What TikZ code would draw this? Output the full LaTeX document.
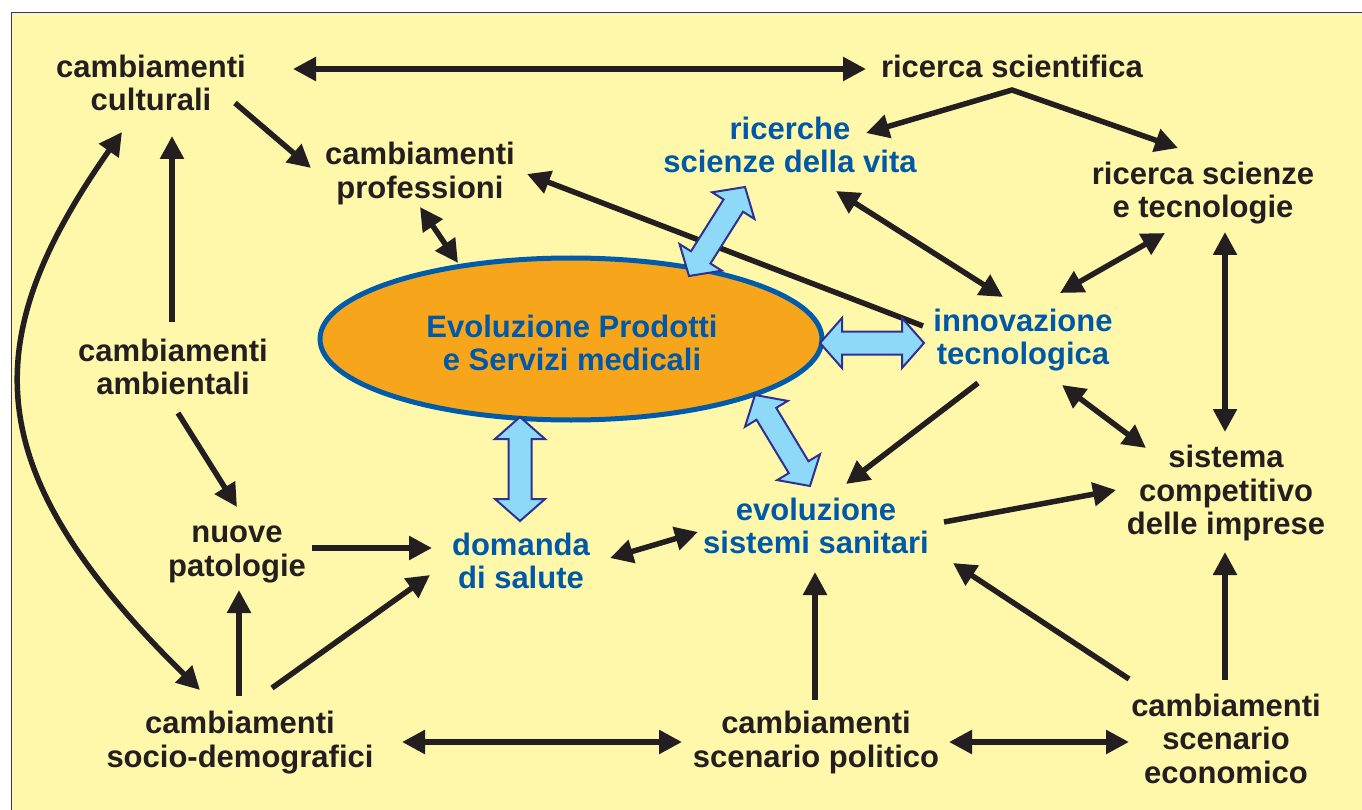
\documentclass[tikz,border=0pt]{standalone}
\usepackage{fontspec}
\setmainfont{Liberation Sans}
\usetikzlibrary{arrows.meta,calc,shapes.geometric}
\definecolor{bgyellow}{RGB}{255,248,170}
\definecolor{framblue}{RGB}{46,49,146}
\definecolor{inkblack}{RGB}{35,31,32}
\definecolor{txtblue}{RGB}{0,88,168}
\definecolor{ellorange}{RGB}{247,166,27}
\definecolor{ellblue}{RGB}{0,92,170}
\definecolor{fatfill}{RGB}{142,216,248}
\definecolor{fatline}{RGB}{46,49,146}
\tikzset{
  lbl/.style={align=center, inner sep=0pt, text=inkblack,
    font=\bfseries\fontsize{31}{33.5}\selectfont},
  blbl/.style={lbl, text=txtblue},
  arr/.style={draw=inkblack, line width=5.5pt, -{Triangle[length=23pt,width=23pt]}},
  darr/.style={draw=inkblack, line width=5.5pt, {Triangle[length=23pt,width=23pt]}-{Triangle[length=23pt,width=23pt]}},
  fatarrow/.style={draw=fatline, fill=fatfill, line width=2pt, line join=miter},
}
\newcommand\fatarr[2]{%
  \coordinate (fapa) at ($(#1)!22pt!(#2)$);
  \coordinate (fapb) at ($(#2)!22pt!(#1)$);
  \draw[fatarrow] (#1) -- ($(fapa)!25pt!90:(#2)$) -- ($(fapa)!11.5pt!90:(#2)$)
    -- ($(fapb)!11.5pt!-90:(#1)$) -- ($(fapb)!25pt!-90:(#1)$) -- (#2)
    -- ($(fapb)!25pt!90:(#1)$) -- ($(fapb)!11.5pt!90:(#1)$)
    -- ($(fapa)!11.5pt!-90:(#2)$) -- ($(fapa)!25pt!-90:(#2)$) -- cycle;
}
\begin{document}
\begin{tikzpicture}[x=1pt,y=-1pt]
\useasboundingbox (0,0) rectangle (1362,810);
\fill[white] (0,0) rectangle (1362,810);
\fill[bgyellow] (11,13) rectangle (1362,810);
\draw[framblue, line width=1pt] (11,810) -- (11,13) -- (1362,13);

% ellipse
\node[ellipse, draw=ellblue, fill=ellorange, line width=5pt,
  minimum width=502pt, minimum height=162pt, inner sep=0pt] (ell) at (571,339) {};
\node[blbl] (elltxt) at (572,343) {Evoluzione Prodotti\\e Servizi medicali};

% nodes
\node[lbl] (cult) at (151,83) {cambiamenti\\culturali};
\node[lbl] (rsci) at (1012,66.3) {ricerca scientifica};
\node[lbl] (prof) at (420,173.3) {cambiamenti\\professioni};
\node[blbl] (rvita) at (790,145) {ricerche\\scienze della vita};
\node[lbl] (rtec) at (1203,193.3) {ricerca scienze\\e tecnologie};
\node[blbl] (innov) at (1023,340.3) {innovazione\\tecnologica};
\node[lbl] (amb) at (173,367) {cambiamenti\\ambientali};
\node[lbl] (sist) at (1226,493) {sistema\\competitivo\\delle imprese};
\node[lbl] (pat) at (237,554.3) {nuove\\patologie};
\node[blbl] (dom) at (521,561) {domanda\\di salute};
\node[blbl] (evo) at (816,526) {evoluzione\\sistemi sanitari};
\node[lbl] (socio) at (240,742.3) {cambiamenti\\socio-demografici};
\node[lbl] (pol) at (816,742.3) {cambiamenti\\scenario politico};
\node[lbl] (eco) at (1226,738.8) {cambiamenti\\scenario\\economico};

% black connectors
\draw[darr] ([shift={(142,-14)}]cult.center) -- ([shift={(-146,2.7)}]rsci.center);
\draw[arr] ([shift={(84,20)}]cult.center) -- ([shift={(-109,-5.3)}]prof.center);
\draw[darr, line join=miter] ([shift={(76,-12)}]rvita.center) -- ([shift={(0,23.7)}]rsci.center) -- ([shift={(-25,-45.3)}]rtec.center);
\draw[darr] ([shift={(0,33.7)}]prof.center) -- ([shift={(-113,-76)}]ell.center);
\draw[arr] ([shift={(-100,-14.3)}]innov.center) -- ([shift={(107,0.7)}]prof.center);
\draw[darr] ([shift={(46,46)}]rvita.center) -- ([shift={(-20,-43.3)}]innov.center);
\draw[darr] ([shift={(-38,39.7)}]rtec.center) -- ([shift={(37,-47.3)}]innov.center);
\draw[darr] ([shift={(22,38.7)}]rtec.center) -- ([shift={(-1,-61)}]sist.center);
\draw[darr] ([shift={(39,44.7)}]innov.center) -- ([shift={(-80,-45)}]sist.center);
\draw[arr] ([shift={(-45,42.7)}]innov.center) -- ([shift={(30,-42)}]evo.center);
\draw[arr] ([shift={(128,-4)}]evo.center) -- ([shift={(-110,-3)}]sist.center);
\draw[arr] ([shift={(-97,-59.8)}]eco.center) -- ([shift={(137,37)}]evo.center);
\draw[arr] ([shift={(-1,-58.8)}]eco.center) -- ([shift={(-1,59)}]sist.center);
\draw[arr] ([shift={(-1,-42.3)}]pol.center) -- ([shift={(-1,46)}]evo.center);
\draw[darr] ([shift={(133,-0.3)}]pol.center) -- ([shift={(-97,3.2)}]eco.center);
\draw[darr] ([shift={(162,-0.3)}]socio.center) -- ([shift={(-134,-0.3)}]pol.center);
\draw[darr] ([shift={(89,-3)}]dom.center) -- ([shift={(-118,6)}]evo.center);
\draw[arr] ([shift={(75,-6.3)}]pat.center) -- ([shift={(-89,-13)}]dom.center);
\draw[arr] ([shift={(32,-54.3)}]socio.center) -- ([shift={(-91,14)}]dom.center);
\draw[arr] ([shift={(-1,-46.3)}]socio.center) -- ([shift={(2,35.7)}]pat.center);
\draw[arr] ([shift={(5,46)}]amb.center) -- ([shift={(0,-47.3)}]pat.center);
\draw[arr] ([shift={(-1,-45)}]amb.center) -- ([shift={(21,53)}]cult.center);
\draw[darr] ([shift={(-40,-52.3)}]socio.center) .. controls (-24,470) and (-24,340) .. ([shift={(-29,49)}]cult.center);

% fat arrows
\coordinate (fa1) at ([shift={(-45,42)}]rvita.center);
\coordinate (fa2) at ([shift={(118,-63)}]ell.center);
\fatarr{fa1}{fa2}
\coordinate (fb1) at ([shift={(249,4)}]ell.center);
\coordinate (fb2) at ([shift={(-99,2.7)}]innov.center);
\fatarr{fb1}{fb2}
\coordinate (fc1) at ([shift={(-51,78)}]ell.center);
\coordinate (fc2) at ([shift={(-1,-40)}]dom.center);
\fatarr{fc1}{fc2}
\coordinate (fd1) at ([shift={(184,56)}]ell.center);
\coordinate (fd2) at ([shift={(-6,-40)}]evo.center);
\fatarr{fd1}{fd2}
\end{tikzpicture}
\end{document}
